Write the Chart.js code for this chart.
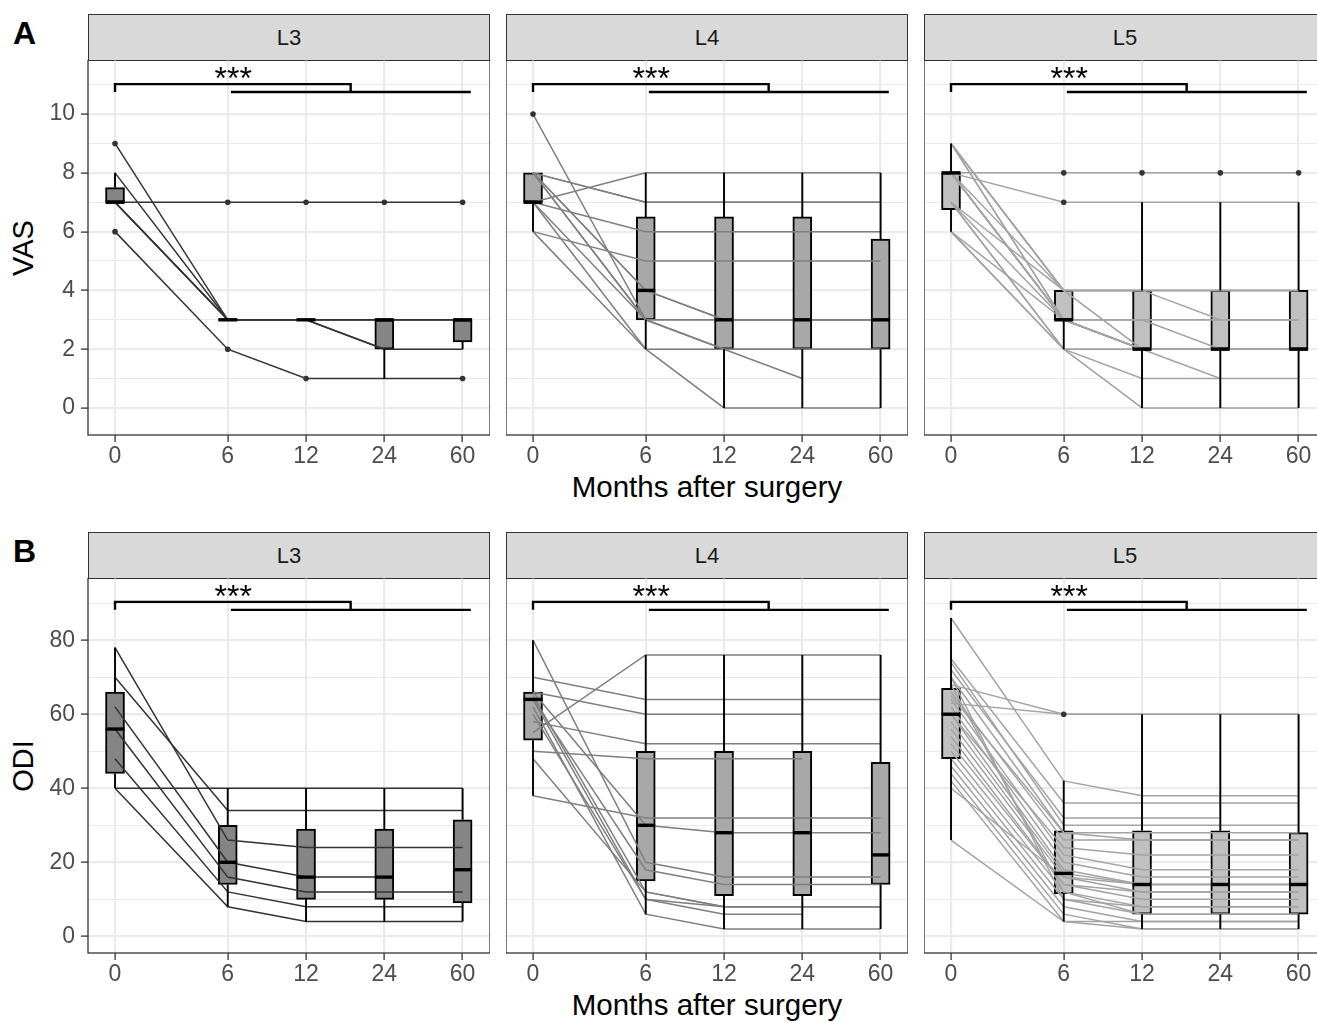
<!DOCTYPE html>
<html>
<head>
<meta charset="utf-8">
<title>VAS / ODI after surgery</title>
<script src="https://cdn.jsdelivr.net/npm/chart.js@4.4.1/dist/chart.umd.min.js"></script>
<style>
    html, body {
        margin: 0;
        padding: 0;
        background: #fff;
        width: 1317px;
        height: 1022px;
        overflow: hidden;
        position: relative;
        font-family: "Liberation Sans", Arial, sans-serif;
    }
    .strip {
        position: absolute;
        box-sizing: border-box;
        background: #d9d9d9;
        border: 1.3px solid #333;
        color: #1a1a1a;
        font-size: 22px;
        text-align: center;
    }
    .panel { position: absolute; }
    .letter {
        position: absolute;
        font-size: 32px;
        line-height: 32px;
        font-weight: bold;
        color: #000;
    }
    .ytitle {
        position: absolute;
        font-size: 29px;
        line-height: 29px;
        color: #000;
        transform: translate(-50%, -50%) rotate(-90deg);
        white-space: nowrap;
    }
    .xtitle {
        position: absolute;
        font-size: 29.5px;
        line-height: 29px;
        color: #000;
        transform: translateX(-50%);
        white-space: nowrap;
    }
</style>
</head>
<body>
<script>
// x axis: follow-up months, placed at these positions on the linear scale
const months = ['0', '6', '12', '24', '60'];
const xPos = [0, 1.44, 2.44, 3.44, 4.44];
const levels = ['L3', 'L4', 'L5'];

// VAS per patient at 0, 6, 12, 24, 60 months
const vasL3 = [
    [9, 3, 3, 3, 3],
    [8, 3, 3, 2, 2],
    [7, 3, 3, 2, null],
    [7, 3, 3, 3, 3],
    [7, 3, 3, 3, 3],
    [7, 7, 7, 7, 7],
    [6, 2, 1, 1, 1]
];
const vasL4 = [
    [7, 8, 8, 8, 8],
    [8, 7, 7, 7, 7],
    [8, 7, 7, 7, 7],
    [7, 6, 6, 6, 6],
    [6, 5, 5, 5, 5],
    [8, 4, 3, 3, 3],
    [8, 4, 3, 3, 3],
    [10, 3, 3, 3, 3],
    [8, 3, 2, 1, null],
    [8, 3, 2, 2, 2],
    [7, 2, 2, 2, 2],
    [6, 2, 0, 0, 0],
    [7, 3, 3, 3, 3]
];
const vasL5 = [
    [8, 8, 8, 8, 8],
    [8, 7, 7, 7, 7],
    [9, 4, 4, 4, 4],
    [9, 4, 4, 3, 3],
    [9, 4, 4, 4, 4],
    [9, 3, 3, 3, 3],
    [9, 3, 2, 2, 2],
    [8, 3, 2, 2, 2],
    [8, 3, 2, 1, 1],
    [8, 4, 2, 2, 2],
    [8, 3, 3, 2, 2],
    [7, 3, 2, 2, 2],
    [7, 2, 2, 2, 2],
    [7, 2, 1, 1, null],
    [6, 2, 0, 0, 0],
    [6, 3, 2, 2, 2],
    [8, 3, 3, 3, 3],
    [7, 4, 4, 4, 4],
    [8, 3, 2, 2, 2],
    [6, 2, 2, 2, 2]
];

// ODI per patient at 0, 6, 12, 24, 60 months
const odiL3 = [
    [78, 26, 24, 24, 24],
    [70, 34, 34, 34, 34],
    [62, 20, 16, 16, null],
    [56, 16, 12, 12, 12],
    [48, 12, 8, 8, 8],
    [40, 8, 4, 4, 4],
    [40, 40, 40, 40, 40]
];
const odiL4 = [
    [70, 64, 64, 64, 64],
    [66, 60, 60, 60, null],
    [58, 52, 52, 52, 52],
    [55, 76, 76, 76, 76],
    [50, 48, 48, 48, null],
    [38, 32, 32, 32, 32],
    [80, 20, 16, 16, 16],
    [66, 30, 28, 28, 28],
    [64, 18, 14, 14, 14],
    [65, 12, 8, 8, 8],
    [64, 10, 6, 6, null],
    [62, 6, 2, 2, 2],
    [60, 10, 8, 8, 8],
    [48, 12, 8, 8, 8]
];
const odiL5 = [
    [68, 60, 60, 60, 60],
    [63, 60, 60, 60, 60],
    [86, 42, 38, 38, 38],
    [75, 36, 36, 36, 36],
    [72, 32, 32, 32, null],
    [74, 30, 30, 30, 30],
    [70, 28, 26, 26, 26],
    [66, 26, 26, 26, 26],
    [64, 22, 18, 18, 18],
    [62, 20, 16, 16, 16],
    [60, 18, 14, 14, 14],
    [58, 17, 14, 14, 14],
    [56, 16, 12, 12, 12],
    [54, 14, 10, 10, 10],
    [52, 14, 12, 12, 12],
    [50, 12, 8, 8, 8],
    [48, 10, 6, 6, 6],
    [46, 8, 4, 4, 4],
    [44, 6, 2, 2, 2],
    [42, 4, 2, 2, 2],
    [40, 16, 14, 14, 14],
    [26, 4, 4, 4, 4],
    [65, 28, 28, 28, 28],
    [68, 12, 6, 6, 6],
    [70, 10, 8, 8, 8],
    [60, 24, 22, 22, 22]
];

// box statistics per month: [lower whisker, q1, median, q3, upper whisker]
const vasL3Box = [[7, 7, 7, 7.5, 8], [3, 3, 3, 3, 3], [3, 3, 3, 3, 3], [1, 2, 3, 3, 3], [2, 2.25, 3, 3, 3]];
const vasL4Box = [[6, 7, 7, 8, 8], [2, 3, 4, 6.5, 8], [0, 2, 3, 6.5, 8], [0, 2, 3, 6.5, 8], [0, 2, 3, 5.75, 8]];
const vasL5Box = [[6, 6.75, 8, 8, 9], [2, 3, 3, 4, 4], [0, 2, 2, 4, 7], [0, 2, 2, 4, 7], [0, 2, 2, 4, 7]];
const odiL3Box = [[40, 44, 56, 66, 78], [8, 14, 20, 30, 40], [4, 10, 16, 29, 40], [4, 10, 16, 29, 40], [4, 9, 18, 31.5, 40]];
const odiL4Box = [[38, 53, 64, 66, 80], [6, 15, 30, 50, 76], [2, 11, 28, 50, 76], [2, 11, 28, 50, 76], [2, 14, 22, 47, 76]];
const odiL5Box = [[26, 48, 60, 67, 86], [4, 11.5, 17, 28.5, 42], [2, 6, 14, 28.5, 60], [2, 6, 14, 28.5, 60], [2, 6, 14, 28, 60]];

// outliers per month
const vasL3Out = [[9, 6], [7, 2], [7, 1], [7], [7, 1]];
const vasL4Out = [[10], [], [], [], []];
const vasL5Out = [[], [8, 7], [8], [8], [8]];
const odiL3Out = [[], [], [], [], []];
const odiL4Out = [[], [], [], [], []];
const odiL5Out = [[], [60], [], [], []];

// y ticks (every step gets a grid line, every second one a label)
const vasTicks = [0, 1, 2, 3, 4, 5, 6, 7, 8, 9, 10, 11];
const odiTicks = [0, 10, 20, 30, 40, 50, 60, 70, 80, 90];

const FONT = '"Liberation Sans", Arial, sans-serif';
const lineColors = ['#333333', '#7f7f7f', '#a3a3a3'];
const boxFills = ['#858585', '#a8a8a8', '#c0c0c0'];
const panelLeft = [88, 506, 924];
const panelW = 402;
const panelH = 375;

const rows = [
    {
        title: 'VAS', letter: 'A', top: 60,
        patients: [vasL3, vasL4, vasL5],
        boxes: [vasL3Box, vasL4Box, vasL5Box],
        outliers: [vasL3Out, vasL4Out, vasL5Out],
        ticks: vasTicks, major: 2, min: -0.92, max: 11.84,
        sig: { y1: 11.02, y2: 10.75, starY: 10.85 }
    },
    {
        title: 'ODI', letter: 'B', top: 578,
        patients: [odiL3, odiL4, odiL5],
        boxes: [odiL3Box, odiL4Box, odiL5Box],
        outliers: [odiL3Out, odiL4Out, odiL5Out],
        ticks: odiTicks, major: 20, min: -4.5, max: 96.8,
        sig: { y1: 90.35, y2: 88.2, starY: 89.0 }
    }
];

// bracket ends on the x scale
const sigX = { start: 0, mid: 3.01, from: 1.48, end: 4.545, star: 1.51 };

const panelBorder = {
    id: 'panelBorder',
    afterDraw(chart) {
        const { ctx, chartArea: a } = chart;
        ctx.save();
        ctx.strokeStyle = '#333';
        ctx.lineWidth = 1.3;
        ctx.strokeRect(a.left, a.top, a.right - a.left, a.bottom - a.top);
        ctx.restore();
    }
};

const sigStars = {
    id: 'sigStars',
    afterDatasetsDraw(chart, args, opts) {
        const { ctx } = chart;
        const px = chart.scales.x.getPixelForValue(opts.x);
        const py = chart.scales.y.getPixelForValue(opts.y);
        ctx.save();
        ctx.font = '32px ' + FONT;
        ctx.fillStyle = '#000';
        ctx.textAlign = 'center';
        ctx.textBaseline = 'alphabetic';
        ctx.fillText('***', px, py);
        ctx.restore();
    }
};

function buildDatasets(row, c) {
    const box = row.boxes[c];
    const ds = [];

    ds.push({
        type: 'bar',
        data: box.map((b, i) => ({ x: xPos[i], y: [b[1], b[3]] })),
        backgroundColor: boxFills[c],
        borderColor: '#000',
        borderWidth: 2,
        borderSkipped: false,
        barThickness: 19,
        order: 5
    });

    row.patients[c].forEach(p => {
        ds.push({
            type: 'line',
            data: p.map((v, i) => ({ x: xPos[i], y: v })),
            borderColor: lineColors[c],
            borderWidth: 1.5,
            pointRadius: 0,
            spanGaps: false,
            order: 4
        });
    });

    const whiskers = [];
    box.forEach((b, i) => {
        whiskers.push({ x: xPos[i], y: b[3] }, { x: xPos[i], y: b[4] }, { x: xPos[i], y: null });
        whiskers.push({ x: xPos[i], y: b[0] }, { x: xPos[i], y: b[1] }, { x: xPos[i], y: null });
    });
    ds.push({
        type: 'line',
        data: whiskers,
        borderColor: '#000',
        borderWidth: 1.9,
        pointRadius: 0,
        spanGaps: false,
        order: 3
    });

    ds.push({
        type: 'scatter',
        data: box.map((b, i) => ({ x: xPos[i], y: b[2] })),
        pointStyle: 'line',
        pointRadius: 9.5,
        pointBorderColor: '#000',
        pointBorderWidth: 3.4,
        order: 2
    });

    const pts = [];
    row.outliers[c].forEach((vals, i) => vals.forEach(v => pts.push({ x: xPos[i], y: v })));
    ds.push({
        type: 'scatter',
        data: pts,
        pointRadius: 2.8,
        pointBackgroundColor: '#333',
        pointBorderWidth: 0,
        order: 1
    });

    // significance bracket
    const s = row.sig;
    ds.push({
        type: 'line',
        data: [
            { x: sigX.start, y: s.y2 }, { x: sigX.start, y: s.y1 },
            { x: sigX.mid, y: s.y1 }, { x: sigX.mid, y: s.y2 }
        ],
        borderColor: '#000',
        borderWidth: 2.4,
        pointRadius: 0,
        order: 0
    });
    ds.push({
        type: 'line',
        data: [{ x: sigX.from, y: s.y2 }, { x: sigX.end, y: s.y2 }],
        borderColor: '#000',
        borderWidth: 2.4,
        pointRadius: 0,
        order: 0
    });
    return ds;
}

function addDiv(cls, text, css) {
    const d = document.createElement('div');
    d.className = cls;
    d.textContent = text;
    Object.assign(d.style, css);
    document.body.appendChild(d);
    return d;
}

rows.forEach(row => {
    addDiv('letter', row.letter, { left: '13px', top: (row.top - 43) + 'px' });
    addDiv('ytitle', row.title, { left: '23px', top: (row.top + panelH / 2) + 'px' });
    addDiv('xtitle', 'Months after surgery', { left: (panelLeft[1] + panelW / 2) + 'px', top: (row.top + panelH + 37) + 'px' });

    levels.forEach((lev, c) => {
        addDiv('strip', lev, {
            left: panelLeft[c] + 'px', top: (row.top - 46) + 'px',
            width: panelW + 'px', height: '47px', lineHeight: '45px'
        });

        const holder = document.createElement('div');
        holder.className = 'panel';
        const left = c === 0 ? 0 : panelLeft[c];
        const width = c === 0 ? panelLeft[0] + panelW : panelW;
        Object.assign(holder.style, {
            left: left + 'px', top: row.top + 'px',
            width: width + 'px', height: (panelH + 45) + 'px'
        });
        const canvas = document.createElement('canvas');
        holder.appendChild(canvas);
        document.body.appendChild(holder);

        new Chart(canvas, {
            type: 'scatter',
            data: { datasets: buildDatasets(row, c) },
            options: {
                responsive: true,
                maintainAspectRatio: false,
                animation: false,
                layout: { padding: 0, autoPadding: false },
                plugins: {
                    legend: { display: false },
                    tooltip: { enabled: false },
                    sigStars: { x: sigX.star, y: row.sig.starY }
                },
                scales: {
                    x: {
                        type: 'linear',
                        min: -0.345,
                        max: 4.79,
                        offset: false,
                        afterBuildTicks: s => { s.ticks = xPos.map(v => ({ value: v })); },
                        afterFit: s => {
                            s.height = 45;
                            s.paddingLeft = 0;
                            s.paddingRight = 0;
                        },
                        ticks: {
                            autoSkip: false,
                            maxRotation: 0,
                            padding: 1,
                            color: '#4d4d4d',
                            font: { size: 23, family: FONT },
                            callback: (v, i) => months[i]
                        },
                        grid: {
                            offset: false,
                            color: '#ebebeb',
                            lineWidth: 2.2,
                            tickLength: 7,
                            tickColor: '#333',
                            tickWidth: 1.3
                        },
                        border: { display: false }
                    },
                    y: {
                        type: 'linear',
                        min: row.min,
                        max: row.max,
                        afterBuildTicks: s => { s.ticks = row.ticks.map(v => ({ value: v })); },
                        afterFit: s => {
                            s.width = c === 0 ? panelLeft[0] : 0;
                            s.paddingTop = 0;
                            s.paddingBottom = 0;
                        },
                        ticks: {
                            display: c === 0,
                            autoSkip: false,
                            padding: 6,
                            color: '#4d4d4d',
                            font: { size: 23, family: FONT },
                            callback: v => (v % row.major === 0 ? String(v) : '')
                        },
                        grid: {
                            color: '#ebebeb',
                            lineWidth: ctx => (ctx.tick && ctx.tick.value % row.major === 0 ? 2.2 : 1.1),
                            drawTicks: c === 0,
                            tickLength: 7,
                            tickWidth: 1.3,
                            tickColor: ctx => (ctx.tick && ctx.tick.value % row.major === 0 ? '#333' : 'rgba(0,0,0,0)')
                        },
                        border: { display: false }
                    }
                }
            },
            plugins: [panelBorder, sigStars]
        });
    });
});
</script>
</body>
</html>
